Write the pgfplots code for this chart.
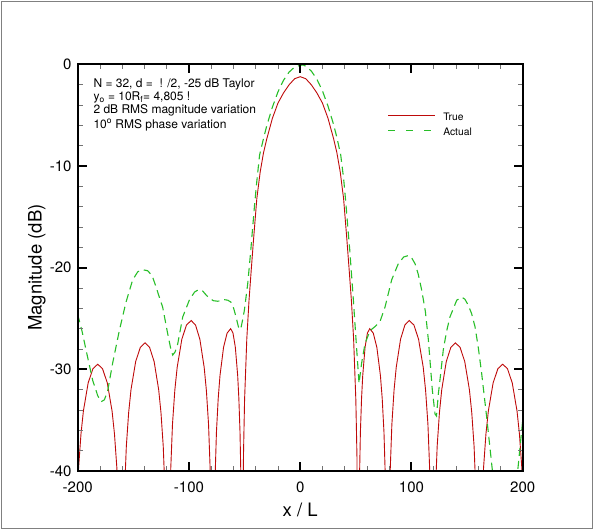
\documentclass[border=0pt]{standalone}
\usepackage{fontspec}
\setmainfont{TeX Gyre Heros}
\usepackage{pgfplots}
\pgfplotsset{compat=1.18}
\definecolor{truered}{RGB}{190,10,10}
\definecolor{actgreen}{RGB}{40,190,40}
\definecolor{framegray}{RGB}{128,128,128}
\begin{document}
\begin{tikzpicture}[x=1bp,y=1bp]
\path[use as bounding box] (0,0) rectangle (596,531);
\draw[framegray, line width=1bp] (1.5,2) rectangle (592,529.5);
\begin{axis}[
  at={(77.7bp,60.1bp)}, anchor=south west,
  width=445bp, height=406.4bp, scale only axis,
  xmin=-200, xmax=200, ymin=-40, ymax=0,
  xtick={-200,-100,0,100,200}, ytick={-40,-30,-20,-10,0},
  minor x tick num=4, minor y tick num=4,
  tick align=inside,
  major tick length=9bp, minor tick length=5bp,
  every major tick/.style={line width=2bp, black},
  every minor tick/.style={line width=0.8bp, black!55},
  axis line style={line width=2bp},
  axis on top,
  /pgf/number format/assume math mode=true,
  ticklabel style={font=\fontsize{15bp}{18bp}\selectfont},
  xticklabel style={anchor=base, yshift=-22bp},
  yticklabel style={anchor=east, xshift=-2.7bp},
  xlabel={x / L}, ylabel={Magnitude (dB)},
  label style={font=\fontsize{18.5bp}{22bp}\selectfont},
  xlabel style={at={(axis description cs:0.5,-0.1122)}, anchor=base},
  ylabel style={at={(axis description cs:-0.0809,0.5)}, anchor=base},
  legend style={draw=none, fill=none, at={(axis description cs:0.6957,0.8826)}, anchor=north west,
    font=\fontsize{10.3bp}{12bp}\selectfont, row sep=3.5bp, column sep=6.7bp, inner sep=0pt,
    nodes={inner sep=1bp, text height=7.5bp, text depth=2bp}},
  legend cell align=left,
  legend image code/.code={\draw[#1] (0bp,2.4bp) -- (47bp,2.4bp);},
]
\addplot[truered, line width=0.9bp, forget plot] coordinates {
(-200,-41.4) (-199.2,-39.7) (-197.05,-36.36) (-194.9,-34.12) (-190.6,-31.34) (-186.3,-29.94) (-182,-29.5) (-177.7,-29.94) (-173.4,-31.34) (-169.1,-34.12) (-166.95,-36.36) (-164.8,-39.7) (-162.65,-45.6) (-161.36,-53.5) (-160.5,-60)
(-159.66,-51.4) (-158.4,-43.5) (-156.3,-37.6) (-154.2,-34.26) (-152.1,-32.02) (-147.9,-29.24) (-143.7,-27.84) (-139.5,-27.4) (-135.4,-27.84) (-131.3,-29.24) (-127.2,-32.02) (-125.15,-34.26) (-123.1,-37.6) (-121.05,-43.5) (-119.82,-51.4) (-119,-60)
(-118.16,-49.2) (-116.9,-41.3) (-114.8,-35.4) (-112.7,-32.06) (-110.6,-29.82) (-106.4,-27.04) (-102.2,-25.64) (-98,-25.2) (-94.1,-25.64) (-90.2,-27.04) (-86.3,-29.82) (-84.35,-32.06) (-82.4,-35.4) (-80.45,-41.3) (-79.28,-49.2) (-78.5,-60)
(-77.86,-50) (-76.9,-42.1) (-75.3,-36.2) (-73.7,-32.86) (-72.1,-30.62) (-68.9,-27.84) (-65.7,-26.44) (-62.5,-26.0) (-60.4,-26.44) (-58.3,-27.84) (-56.2,-30.62) (-55.15,-32.86) (-54.1,-36.2) (-53.05,-42.1) (-52.42,-50) (-52,-60)
(-51,-38.5) (-50,-33) (-48,-27) (-46,-23.2) (-44,-20.2) (-42,-17.3) (-39,-13.2) (-36,-10.6) (-33,-8.7) (-30,-7.3) (-25,-5.3) (-20,-3.8) (-15,-2.8) (-10,-2.0) (-5,-1.4) (0,-1.2)
(5,-1.4) (10,-2.0) (15,-2.8) (20,-3.8) (25,-5.3) (30,-7.3) (33,-8.7) (36,-10.6) (39,-13.2) (42,-17.3) (44,-20.2) (46,-23.2) (48,-27) (50,-33) (51,-38.5) (52,-60)
(52.42,-50) (53.05,-42.1) (54.1,-36.2) (55.15,-32.86) (56.2,-30.62) (58.3,-27.84) (60.4,-26.44) (62.5,-26.0) (65.7,-26.44) (68.9,-27.84) (72.1,-30.62) (73.7,-32.86) (75.3,-36.2) (76.9,-42.1) (77.86,-50) (78.5,-60)
(79.28,-49.2) (80.45,-41.3) (82.4,-35.4) (84.35,-32.06) (86.3,-29.82) (90.2,-27.04) (94.1,-25.64) (98,-25.2) (102.2,-25.64) (106.4,-27.04) (110.6,-29.82) (112.7,-32.06) (114.8,-35.4) (116.9,-41.3) (118.16,-49.2) (119,-60)
(119.82,-51.4) (121.05,-43.5) (123.1,-37.6) (125.15,-34.26) (127.2,-32.02) (131.3,-29.24) (135.4,-27.84) (139.5,-27.4) (143.7,-27.84) (147.9,-29.24) (152.1,-32.02) (154.2,-34.26) (156.3,-37.6) (158.4,-43.5) (159.66,-51.4) (160.5,-60)
(161.36,-53.5) (162.65,-45.6) (164.8,-39.7) (166.95,-36.36) (169.1,-34.12) (173.4,-31.34) (177.7,-29.94) (182,-29.5) (186.3,-29.94) (190.6,-31.34) (194.9,-34.12) (197.05,-36.36) (199.2,-39.7) (200,-41.4)
};
\addplot[actgreen, line width=1.1bp, dash pattern=on 8bp off 5bp, forget plot] coordinates {
(-200,-24.6) (-196,-26.3) (-192.5,-28.1) (-186.5,-31.1) (-182,-32.6) (-179,-33.2) (-176,-33.0) (-173,-32.1) (-168.6,-29.4) (-162.6,-26.2) (-156.6,-23.4) (-150.6,-21.2) (-146,-20.4) (-141.6,-20.2) (-137.1,-20.3) (-133,-20.8) (-129.6,-21.9) (-123.6,-23.9) (-119.1,-26.5) (-116.5,-27.9) (-114.6,-28.6) (-112.5,-28.3) (-110.1,-27.5) (-105.6,-24.85) (-99.7,-23.2) (-95,-22.4) (-91.2,-22.15) (-87.6,-22.3) (-84.5,-22.7) (-81.7,-23.0) (-78,-23.25) (-74.2,-23.3) (-71,-23.25) (-68.2,-23.15) (-65,-23.2) (-62.2,-23.4) (-59.8,-24.0) (-57.7,-24.85) (-55.8,-25.7) (-54.7,-26.1) (-53,-25.8) (-51.5,-25.0) (-50.2,-24.2) (-47.2,-21.6) (-44.5,-18.4) (-43,-16.4) (-41,-13.8) (-39,-11.5) (-36.5,-8.9) (-33,-7.3) (-30,-6.0) (-25,-4.2) (-20,-2.7) (-15,-1.55) (-10,-0.75) (-5,-0.25) (0,-0.08) (3,-0.05) (6,-0.25) (10,-0.65) (15,-1.45) (20,-2.6) (25,-4.1) (30,-5.9) (33,-7.2) (36.4,-8.9) (39,-11.2) (41,-13.6) (43,-16.3) (44.5,-18.2) (47.8,-23.2) (50.8,-28.1) (52.9,-31.4) (55.2,-29.4) (58.2,-27.5) (62.7,-26.2) (67.2,-25.8) (71.7,-25.3) (76.2,-23.9) (82.2,-21.2) (88.2,-19.6) (93,-18.95) (97.2,-18.8) (100,-19.0) (103.2,-19.6) (106,-20.6) (109.2,-22.2) (112.5,-24.3) (115.2,-27.1) (118.8,-32.1) (121.2,-34.4) (122.5,-34.6) (124.2,-32.4) (126.5,-30.2) (128.6,-28.1) (131.5,-26.3) (134.6,-24.85) (140.7,-23.2) (145.2,-22.9) (148,-23.1) (151.1,-23.7) (154,-24.5) (157.1,-25.8) (160,-27.8) (163.1,-30.4) (167.6,-34.7) (172.1,-39.3) (175,-42.3) (180,-50) (185,-58) (190,-47) (195.5,-40) (200,-35)
};
\addlegendimage{truered, line width=0.9bp}
\addlegendentry{True}
\addlegendimage{actgreen, line width=1.1bp, dash pattern=on 7bp off 11bp}
\addlegendentry{Actual}
\node[anchor=base west, inner sep=0pt, font=\fontsize{12bp}{14bp}\selectfont] at (rel axis cs:0.0351,0.9439) {N = 32, d = \ ! /2, -25 dB Taylor};
\node[anchor=base west, inner sep=0pt, font=\fontsize{12bp}{14bp}\selectfont] at (rel axis cs:0.0351,0.9119) {y\textsubscript{o} = 10R\textsubscript{f}= 4,805 !};
\node[anchor=base west, inner sep=0pt, font=\fontsize{12bp}{14bp}\selectfont] at (rel axis cs:0.0351,0.8782) {2 dB RMS magnitude variation};
\node[anchor=base west, inner sep=0pt, font=\fontsize{12bp}{14bp}\selectfont] at (rel axis cs:0.0351,0.8430) {10\textsuperscript{o} RMS phase variation};
\end{axis}
\end{tikzpicture}
\end{document}
